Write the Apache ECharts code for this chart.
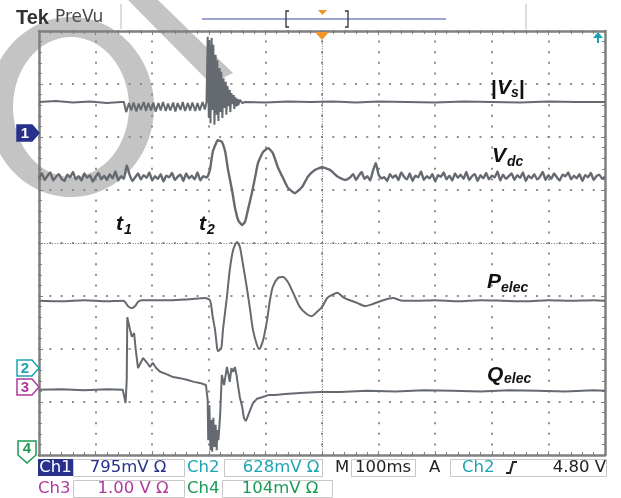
<!DOCTYPE html>
<html>
<head>
<meta charset="utf-8">
<script src="https://cdn.jsdelivr.net/npm/echarts@6/dist/echarts.min.js"></script>
<style>
html, body { margin: 0; padding: 0; background: #fff; }
#scope { width: 621px; height: 498px; }
</style>
</head>
<body>
<div id="scope"></div>
<script>
// time in ms (M 100ms/div, trigger at 0), amplitude in screen divisions
var vsData = [
    [-500,2.66],[-470,2.68],[-440,2.65],[-410,2.67],[-380,2.64],[-355,2.66],
    [-350,2.66],[-346,2.47],[-341,2.64],[-337,2.50],[-333,2.65],[-328,2.48],[-324,2.63],[-320,2.51],
    [-315,2.66],[-311,2.49],[-307,2.64],[-302,2.50],[-298,2.65],[-294,2.48],[-289,2.64],[-285,2.50],
    [-281,2.66],[-276,2.49],[-272,2.63],[-268,2.50],[-263,2.65],[-259,2.48],[-255,2.64],[-250,2.51],
    [-246,2.66],[-242,2.49],[-237,2.64],[-233,2.50],[-229,2.65],[-224,2.49],[-220,2.64],[-216,2.50],
    [-211,2.66],[-207,2.52],[-204,2.66],
    [-202,3.89],[-200,2.36],[-199,3.83],[-197,2.26],[-195,3.87],[-193,2.51],[-192,3.74],[-190,2.23],
    [-188,3.55],[-186,2.42],[-185,3.45],[-183,2.30],[-181,3.30],[-179,2.47],[-178,3.23],[-176,2.36],
    [-174,3.11],[-172,2.55],[-170,3.04],[-169,2.42],[-167,2.96],[-165,2.58],[-163,2.89],[-162,2.47],
    [-160,2.83],[-158,2.62],[-156,2.79],[-155,2.53],[-153,2.75],[-151,2.58],[-149,2.72],[-148,2.60],
    [-145,2.70],[-141,2.64],[-136,2.66],
    [-100,2.65],[-60,2.67],[-20,2.66],[20,2.67],[60,2.65],[100,2.67],[150,2.66],[200,2.65],
    [250,2.67],[300,2.66],[350,2.65],[400,2.67],[450,2.66],[500,2.66]
];
// Vdc: noisy flat stretches sampled every 5 ms, plus the post-fault swing
var vdcPreStart = -500, vdcPostStart = 55, vdcStep = 5;
var vdcPre = [
    1.22,1.31,1.19,1.27,1.33,1.18,1.25,1.30,1.21,1.17,1.29,1.24,1.34,1.20,1.26,1.18,1.31,1.23,1.28,1.16,
    1.25,1.32,1.20,1.27,1.19,1.30,1.22,1.35,1.18,1.26,1.21,1.47,1.29,1.17,1.24,1.31,1.20,1.28,1.23,1.33,
    1.18,1.26,1.21,1.30,1.16,1.27,1.24,1.32,1.19,1.25,1.29,1.17,1.31,1.22,1.27,1.20,1.33,1.18,1.26,1.24
];
var vdcSwing = [
    [-203,1.24],[-198,1.38],[-193,1.72],[-186,1.91],[-184,1.94],[-177,1.91],[-171,1.72],[-166,1.38],
    [-159,1.00],[-154,0.68],[-148,0.43],[-141,0.34],[-136,0.40],[-131,0.62],[-124,0.94],[-118,1.25],
    [-113,1.51],[-104,1.72],[-95,1.79],[-87,1.70],[-78,1.43],[-69,1.23],[-60,1.04],[-48,0.94],
    [-35,1.06],[-25,1.25],[-12,1.38],[0,1.43],[14,1.38],[28,1.25],[41,1.19],[49,1.23]
];
var vdcPost = [
    1.30,1.19,1.27,1.34,1.21,1.26,1.18,1.36,1.51,1.29,1.22,1.24,1.17,1.30,1.23,1.28,1.19,1.33,1.25,1.20,
    1.31,1.17,1.27,1.24,1.35,1.19,1.26,1.22,1.30,1.16,1.28,1.25,1.33,1.20,1.27,1.18,1.31,1.23,1.29,1.21,
    1.34,1.19,1.26,1.30,1.17,1.28,1.22,1.32,1.20,1.27,1.24,1.35,1.18,1.29,1.21,1.26,1.31,1.19,1.28,1.23,
    1.33,1.17,1.27,1.22,1.30,1.20,1.25,1.34,1.19,1.28,1.21,1.31,1.24,1.18,1.29,1.26,1.33,1.20,1.27,1.22,
    1.30,1.17,1.28,1.24,1.32,1.19,1.26,1.29,1.21,1.25
];
var pData = [
    [-500,-1.09],[-460,-1.10],[-420,-1.08],[-380,-1.10],[-352,-1.09],[-348,-1.11],[-343,-1.19],
    [-336,-1.23],[-330,-1.19],[-325,-1.11],[-318,-1.08],[-304,-1.08],[-269,-1.08],[-233,-1.06],
    [-207,-1.04],[-198,-1.08],[-193,-1.40],[-189,-1.64],[-186,-1.92],[-184,-2.04],[-178,-1.98],
    [-175,-1.64],[-168,-1.02],[-163,-0.51],[-157,-0.13],[-150,0.02],[-145,-0.08],[-140,-0.38],
    [-133,-0.83],[-127,-1.26],[-122,-1.64],[-115,-1.92],[-111,-2.00],[-104,-1.83],[-97,-1.45],
    [-92,-1.08],[-87,-0.83],[-78,-0.66],[-69,-0.64],[-60,-0.74],[-51,-0.94],[-39,-1.21],
    [-27,-1.34],[-18,-1.38],[-9,-1.30],[0,-1.21],[9,-1.04],[18,-0.98],[27,-0.94],[37,-1.02],
    [49,-1.08],[62,-1.13],[76,-1.19],[90,-1.15],[108,-1.08],[125,-1.04],[143,-1.09],[168,-1.09],
    [200,-1.08],[240,-1.10],[280,-1.08],[320,-1.09],[360,-1.10],[400,-1.08],[440,-1.09],
    [480,-1.08],[500,-1.09]
];
var qData = [
    [-500,-2.77],[-460,-2.76],[-420,-2.78],[-380,-2.76],[-352,-2.77],[-350,-2.87],[-347,-3.02],
    [-345,-2.58],[-344,-1.40],[-343,-1.45],[-339,-1.64],[-336,-1.77],[-332,-1.70],[-329,-2.02],
    [-325,-2.36],[-320,-2.25],[-316,-2.17],[-313,-2.21],[-309,-2.26],[-304,-2.34],[-299,-2.26],
    [-293,-2.36],[-286,-2.43],[-276,-2.47],[-263,-2.53],[-251,-2.55],[-239,-2.58],[-226,-2.62],
    [-216,-2.64],[-205,-2.68],[-202,-2.96],[-201,-3.72],[-199,-3.06],[-197,-3.91],[-195,-3.34],
    [-194,-3.94],[-192,-3.30],[-190,-3.85],[-188,-3.43],[-186,-3.91],[-185,-3.53],[-183,-3.72],
    [-180,-3.25],[-177,-2.49],[-173,-2.68],[-168,-2.34],[-165,-2.49],[-163,-2.62],[-160,-2.36],
    [-157,-2.43],[-154,-2.34],[-151,-2.49],[-148,-2.72],[-145,-2.92],[-141,-3.09],[-138,-3.30],
    [-135,-3.36],[-133,-3.32],[-129,-3.21],[-122,-3.02],[-115,-2.94],[-106,-2.91],[-95,-2.87],
    [-83,-2.87],[-65,-2.85],[-39,-2.83],[-4,-2.81],[32,-2.81],[80,-2.79],[130,-2.80],[180,-2.78],
    [230,-2.79],[280,-2.80],[330,-2.78],[380,-2.79],[430,-2.80],[480,-2.78],[500,-2.79]
];

var chNames = ['Ch1', 'Ch2', 'Ch3', 'Ch4'];
var chScales = ['795mV \u03A9', '628mV \u03A9', '1.00 V \u03A9', '104mV \u03A9'];
var chColors = ['#27318c', '#1ea3b3', '#b03a9c', '#1a9a55'];
var timeBase = '100ms';
var trigSource = 'Ch2';
var trigLevel = '4.80 V';

var traceColor = '#656a70';
var dotColor = '#8c8c8c';
var frameColor = '#808080';
var wm = '#c4c4c4';

function sampled(t0, dt, vals) {
    return vals.map(function (v, i) { return [t0 + i * dt, v]; });
}
var vdcData = sampled(vdcPreStart, vdcStep, vdcPre)
    .concat(vdcSwing)
    .concat(sampled(vdcPostStart, vdcStep, vdcPost));

var chart = echarts.init(document.getElementById('scope'));

function borderAxis(pos, isX) {
    return {
        type: 'value', position: pos,
        min: isX ? -500 : -4, max: isX ? 500 : 4, interval: isX ? 100 : 1,
        axisLine: { show: true, onZero: false, lineStyle: { color: frameColor, width: 2.5 } },
        axisTick: { show: true, inside: true, length: 4, lineStyle: { color: frameColor } },
        minorTick: { show: true, splitNumber: 5, length: 3, lineStyle: { color: frameColor } },
        axisLabel: { show: false },
        splitLine: { show: false }
    };
}

var xMain = borderAxis('bottom', true);
xMain.splitLine = { show: true, lineStyle: { color: dotColor, width: 2, type: [2, 8.6], dashOffset: 1 } };
var yMain = borderAxis('left', false);
yMain.splitLine = { show: true, lineStyle: { color: dotColor, width: 2, type: [2, 9.32], dashOffset: 1 } };

var traces = [vsData, vdcData, pData, qData];
var series = traces.map(function (d, i) {
    return {
        type: 'line', data: d, showSymbol: false,
        smooth: i === 2 ? 0.25 : (i === 1 ? 0.15 : false),
        z: 5,
        lineStyle: { color: traceColor, width: i === 1 ? 2.4 : 2 },
        animation: false
    };
});
// centre graticule lines (finer dotted cross)
series[0].markLine = {
    silent: true, symbol: 'none', animation: false, label: { show: false },
    lineStyle: { color: '#6f6f6f', width: 1, type: [1, 1.6] },
    data: [{ xAxis: 0 }, { yAxis: 0 }]
};

function txt(x, y, text, font, fill, align, va, z) {
    return { type: 'text', x: x, y: y, z: z || 20,
        style: { text: text, font: font, fill: fill, align: align || 'left', verticalAlign: va || 'middle' } };
}
function box(x, y, w, h, fill, stroke) {
    return { type: 'rect', z: 15, shape: { x: x, y: y, width: w, height: h },
        style: { fill: fill || 'none', stroke: stroke || null, lineWidth: 1 } };
}
function marker(y, label, color, filled) {
    return [
        { type: 'polygon', z: 15, shape: { points: [[17, y - 8], [32, y - 8], [39, y], [32, y + 8], [17, y + 8]] },
          style: { fill: filled ? color : '#fff', stroke: color, lineWidth: 1.5 } },
        txt(25, y + 1, label, 'bold 15px "Liberation Sans", Arial, sans-serif', filled ? '#fff' : color, 'center')
    ];
}

var italic = 'italic bold 21px "Liberation Sans", Arial, sans-serif';
var italicSub = 'italic bold 14px "Liberation Sans", Arial, sans-serif';
var roFont = '16.5px "DejaVu Sans", sans-serif';

var graphics = [
    // watermark behind the traces
    { type: 'ellipse', z: -10, shape: { cx: 71, cy: 107, rx: 83, ry: 90 }, style: { fill: wm } },
    { type: 'ellipse', z: -9, shape: { cx: 71, cy: 107, rx: 58, ry: 70 }, style: { fill: '#fff' } },
    { type: 'polygon', z: -10, shape: { points: [[128, 0], [158, 0], [233, 73], [211, 84]] }, style: { fill: wm } },

    // header
    txt(16, 18, 'Tek', 'bold 20px "Liberation Sans", Arial, sans-serif', '#333'),
    txt(55, 18, 'PreVu', '17px "DejaVu Sans", sans-serif', '#4a4a4a'),
    { type: 'line', z: 15, shape: { x1: 121, y1: 4, x2: 121, y2: 29 }, style: { stroke: '#b8b8b8', lineWidth: 1 } },
    { type: 'line', z: 15, shape: { x1: 526, y1: 4, x2: 526, y2: 29 }, style: { stroke: '#b8b8b8', lineWidth: 1 } },
    { type: 'line', z: 15, shape: { x1: 202, y1: 19, x2: 446, y2: 19 }, style: { stroke: '#3a4aa8', lineWidth: 1.2 } },
    { type: 'polyline', z: 15, shape: { points: [[289, 11], [286, 11], [286, 27], [289, 27]] }, style: { stroke: '#333', lineWidth: 1.3, fill: null } },
    { type: 'polyline', z: 15, shape: { points: [[345, 11], [348, 11], [348, 27], [345, 27]] }, style: { stroke: '#333', lineWidth: 1.3, fill: null } },
    { type: 'polygon', z: 15, shape: { points: [[318, 10], [327, 10], [322.5, 15]] }, style: { fill: '#f0962a' } },

    // trigger position and level markers on the graticule
    { type: 'polygon', z: 30, shape: { points: [[315, 32], [329, 32], [322, 40]] }, style: { fill: '#f0962a' } },
    { type: 'polygon', z: 30, shape: { points: [[593, 38], [598, 32], [603, 38]] }, style: { fill: '#1ea3b3' } },
    { type: 'line', z: 30, shape: { x1: 598, y1: 36, x2: 598, y2: 43 }, style: { stroke: '#1ea3b3', lineWidth: 2 } },

    // trace labels
    txt(491, 89, '|', 'bold 21px "Liberation Sans", Arial, sans-serif', '#111'),
    txt(497, 88, 'V', italic, '#111'),
    txt(511, 93, 's', italicSub, '#111'),
    txt(519, 89, '|', 'bold 21px "Liberation Sans", Arial, sans-serif', '#111'),
    txt(492, 156, 'V', italic, '#111'),
    txt(507, 162, 'dc', italicSub, '#111'),
    txt(487, 282, 'P', italic, '#111'),
    txt(501, 288, 'elec', italicSub, '#111'),
    txt(487, 375, 'Q', italic, '#111'),
    txt(504, 379, 'elec', italicSub, '#111'),
    txt(116, 224, 't', italic, '#111'),
    txt(124, 230, '1', italicSub, '#111'),
    txt(199, 224, 't', italic, '#111'),
    txt(207, 230, '2', italicSub, '#111'),

    // readout row 1
    box(38, 459, 35, 17, chColors[0]),
    txt(55.5, 468, chNames[0], roFont, '#fff', 'center'),
    box(73.5, 459.5, 111, 17, null, '#c8c8c8'),
    txt(128, 468, chScales[0], roFont, chColors[0], 'center'),
    txt(187, 468, chNames[1], roFont, chColors[1]),
    box(224.5, 459.5, 98, 17, null, '#c8c8c8'),
    txt(281, 468, chScales[1], roFont, chColors[1], 'center'),
    txt(335, 468, 'M', roFont, '#222'),
    box(351.5, 459.5, 64, 17, null, '#c8c8c8'),
    txt(383, 468, timeBase, roFont, '#222', 'center'),
    txt(429, 468, 'A', roFont, '#222'),
    box(450.5, 459.5, 156, 17, null, '#c8c8c8'),
    txt(462, 468, trigSource, roFont, chColors[1]),
    { type: 'polyline', z: 20, shape: { points: [[506, 473], [510, 473], [513, 462], [517, 462]] }, style: { stroke: '#222', lineWidth: 2, fill: null } },
    txt(606, 468, trigLevel, roFont, '#222', 'right'),

    // readout row 2
    txt(38, 489, chNames[2], roFont, chColors[2]),
    box(73.5, 480.5, 111, 17, null, '#c8c8c8'),
    txt(133, 489, chScales[2], roFont, chColors[2], 'center'),
    txt(187, 489, chNames[3], roFont, chColors[3]),
    box(222.5, 480.5, 110, 17, null, '#c8c8c8'),
    txt(280, 489, chScales[3], roFont, chColors[3], 'center'),

    // ground marker 4 (pointing down)
    { type: 'polygon', z: 15, shape: { points: [[18, 441], [36, 441], [36, 455], [27, 463], [18, 455]] },
      style: { fill: '#fff', stroke: chColors[3], lineWidth: 1.5 } },
    txt(27, 449, '4', 'bold 15px "Liberation Sans", Arial, sans-serif', chColors[3], 'center')
]
.concat(marker(133, '1', chColors[0], true))
.concat(marker(368, '2', chColors[1], false))
.concat(marker(387, '3', chColors[2], false));

var option = {
    backgroundColor: '#fff',
    animation: false,
    grid: { left: 39, top: 31, width: 566, height: 424, show: false },
    xAxis: [xMain, borderAxis('top', true)],
    yAxis: [yMain, borderAxis('right', false)],
    series: series,
    graphic: graphics
};

chart.setOption(option);
</script>
</body>
</html>
